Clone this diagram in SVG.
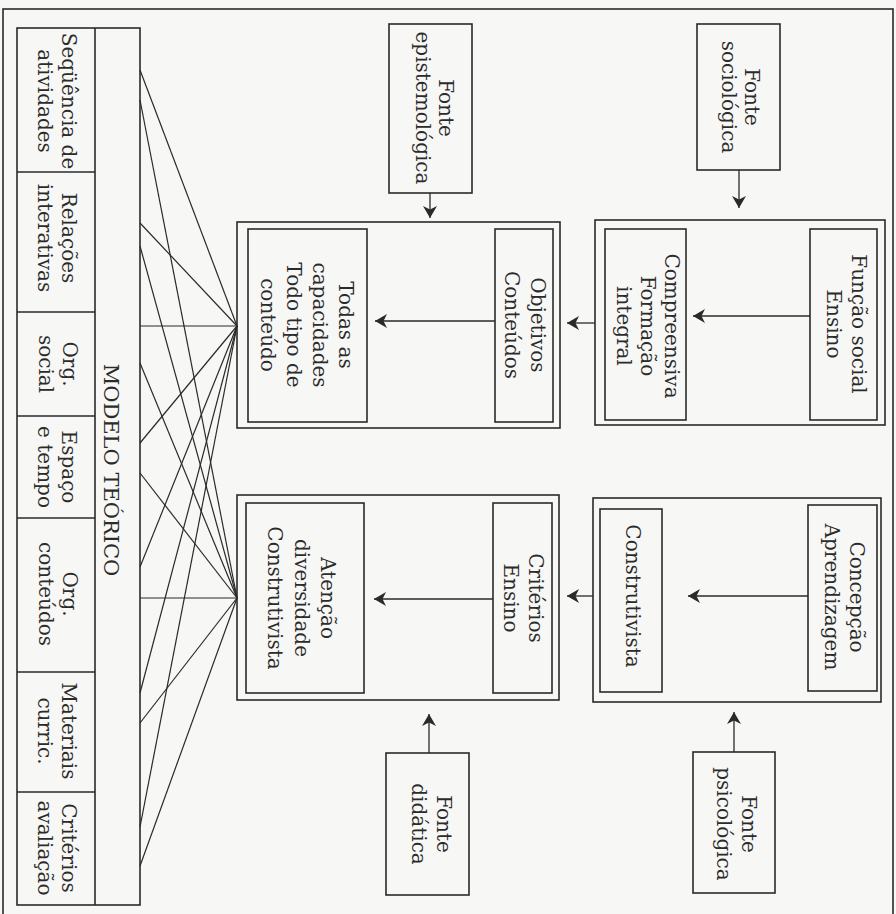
<svg xmlns="http://www.w3.org/2000/svg" width="896" height="914" viewBox="0 0 896 914">
<defs>
<marker id="ah" markerUnits="userSpaceOnUse" markerWidth="16" markerHeight="16" refX="12" refY="7" orient="auto">
<path d="M0,0 L12,7 L0,14 L3.5,7 z" fill="#2a2a2a"/>
</marker>
<style>
.box{fill:none;stroke:#2a2a2a;stroke-width:1.6}
.ln{stroke:#2a2a2a;stroke-width:1.2;fill:none}
.ar{stroke:#2a2a2a;stroke-width:1.3;fill:none;marker-end:url(#ah)}
text{font-family:"DejaVu Serif","Liberation Serif",serif;font-size:20px;fill:#2b2b2b;text-anchor:middle}
.big{font-size:21px}
</style>
</defs>
<rect x="0" y="0" width="896" height="914" fill="#f7f7f5"/>
<rect class="box" x="3" y="9" width="890" height="912"/>

<g id="modelo">
<rect class="box" x="17" y="28" width="123" height="877"/>
<line class="box" x1="95" y1="28" x2="95" y2="905"/>
<line class="box" x1="17" y1="172" x2="95" y2="172"/>
<line class="box" x1="17" y1="312" x2="95" y2="312"/>
<line class="box" x1="17" y1="416" x2="95" y2="416"/>
<line class="box" x1="17" y1="518" x2="95" y2="518"/>
<line class="box" x1="17" y1="672" x2="95" y2="672"/>
<line class="box" x1="17" y1="792" x2="95" y2="792"/>
<text class="big" transform="translate(104,470) rotate(90)">MODELO TEÓRICO</text>
<text transform="translate(62,101) rotate(90)"><tspan x="0" y="0">Seqüência de</tspan><tspan x="0" y="24">atividades</tspan></text>
<text transform="translate(62,238) rotate(90)"><tspan x="0" y="0">Relações</tspan><tspan x="0" y="24">interativas</tspan></text>
<text transform="translate(63,364) rotate(90)"><tspan x="0" y="0">Org.</tspan><tspan x="0" y="24">social</tspan></text>
<text transform="translate(62,467) rotate(90)"><tspan x="0" y="0">Espaço</tspan><tspan x="0" y="24">e tempo</tspan></text>
<text transform="translate(63,594) rotate(90)"><tspan x="0" y="0">Org.</tspan><tspan x="0" y="24">conteúdos</tspan></text>
<text transform="translate(62,731) rotate(90)"><tspan x="0" y="0">Materiais</tspan><tspan x="0" y="24">curric.</tspan></text>
<text transform="translate(62,848) rotate(90)"><tspan x="0" y="0">Critérios</tspan><tspan x="0" y="24">avaliação</tspan></text>
</g>

<g id="fonte-epistemologica">
<rect class="box" x="389" y="24" width="83" height="169"/>
<text transform="translate(439,108) rotate(90)"><tspan x="0" y="0">Fonte</tspan><tspan x="0" y="23">epistemológica</tspan></text>
</g>

<g id="fonte-sociologica">
<rect class="box" x="697" y="24" width="83" height="146"/>
<text transform="translate(745,97) rotate(90)"><tspan x="0" y="0">Fonte</tspan><tspan x="0" y="23">sociológica</tspan></text>
</g>

<g id="grupo-objetivos">
<rect class="box" x="237" y="222" width="323" height="206"/>
</g>
<g id="todas-capacidades">
<rect class="box" x="248" y="229" width="119" height="193"/>
<text transform="translate(339,325) rotate(90)"><tspan x="0" y="0">Todas as</tspan><tspan x="0" y="26">capacidades</tspan><tspan x="0" y="52">Todo tipo de</tspan><tspan x="0" y="78">conteúdo</tspan></text>
</g>
<g id="objetivos-conteudos">
<rect class="box" x="495" y="229" width="58" height="193"/>
<text transform="translate(531,325) rotate(90)"><tspan x="0" y="0">Objetivos</tspan><tspan x="0" y="26">Conteúdos</tspan></text>
</g>

<g id="grupo-funcao">
<rect class="box" x="595" y="220" width="290" height="205"/>
</g>
<g id="compreensiva">
<rect class="box" x="605" y="229" width="81" height="191"/>
<text transform="translate(665,326) rotate(90)"><tspan x="0" y="0">Compreensiva</tspan><tspan x="0" y="24">Formação</tspan><tspan x="0" y="48">integral</tspan></text>
</g>
<g id="funcao-social">
<rect class="box" x="810" y="229" width="67" height="191"/>
<text transform="translate(852,324) rotate(90)"><tspan x="0" y="0">Função social</tspan><tspan x="0" y="25">Ensino</tspan></text>
</g>

<g id="grupo-criterios">
<rect class="box" x="237" y="495" width="322" height="205"/>
</g>
<g id="atencao-diversidade">
<rect class="box" x="246" y="503" width="118" height="190"/>
<text transform="translate(321,598) rotate(90)"><tspan x="0" y="0">Atenção</tspan><tspan x="0" y="26.5">diversidade</tspan><tspan x="0" y="53">Construtivista</tspan></text>
</g>
<g id="criterios-ensino">
<rect class="box" x="493" y="503" width="59" height="190"/>
<text transform="translate(529,598) rotate(90)"><tspan x="0" y="0">Critérios</tspan><tspan x="0" y="25">Ensino</tspan></text>
</g>

<g id="grupo-concepcao">
<rect class="box" x="593" y="498" width="288" height="204"/>
</g>
<g id="construtivista">
<rect class="box" x="600" y="509" width="62" height="183"/>
<text transform="translate(626,596) rotate(90)">Construtivista</text>
</g>
<g id="concepcao-aprendizagem">
<rect class="box" x="808" y="505" width="69" height="186"/>
<text transform="translate(850,597) rotate(90)"><tspan x="0" y="0">Concepção</tspan><tspan x="0" y="25">Aprendizagem</tspan></text>
</g>

<g id="fonte-didatica">
<rect class="box" x="386" y="753" width="83" height="142"/>
<text transform="translate(437,824) rotate(90)"><tspan x="0" y="0">Fonte</tspan><tspan x="0" y="25">didática</tspan></text>
</g>

<g id="fonte-psicologica">
<rect class="box" x="693" y="752" width="82" height="141"/>
<text transform="translate(742,824) rotate(90)"><tspan x="0" y="0">Fonte</tspan><tspan x="0" y="25">psicológica</tspan></text>
</g>

<g id="connectors">
<line class="ar" x1="739" y1="170" x2="739" y2="208"/>
<line class="ar" x1="430" y1="193" x2="430" y2="218"/>
<line class="ar" x1="810" y1="316" x2="693" y2="316"/>
<line class="ar" x1="595" y1="323" x2="567" y2="323"/>
<line class="ar" x1="495" y1="321" x2="375" y2="321"/>
<line class="ar" x1="808" y1="596" x2="688" y2="596"/>
<line class="ar" x1="593" y1="596" x2="567" y2="596"/>
<line class="ar" x1="493" y1="599" x2="374" y2="599"/>
<line class="ar" x1="429" y1="753" x2="429" y2="714"/>
<line class="ar" x1="734" y1="752" x2="734" y2="712"/>
<line class="ln" x1="140" y1="70" x2="237" y2="326"/>
<line class="ln" x1="140" y1="100" x2="237" y2="598"/>
<line class="ln" x1="140" y1="223" x2="237" y2="326"/>
<line class="ln" x1="140" y1="246" x2="237" y2="598"/>
<line class="ln" x1="140" y1="326" x2="237" y2="326"/>
<line class="ln" x1="140" y1="363" x2="237" y2="598"/>
<line class="ln" x1="140" y1="443" x2="237" y2="326"/>
<line class="ln" x1="140" y1="473" x2="237" y2="598"/>
<line class="ln" x1="140" y1="567" x2="237" y2="326"/>
<line class="ln" x1="140" y1="598" x2="237" y2="598"/>
<line class="ln" x1="140" y1="693" x2="237" y2="326"/>
<line class="ln" x1="140" y1="723" x2="237" y2="598"/>
<line class="ln" x1="140" y1="827" x2="237" y2="326"/>
<line class="ln" x1="140" y1="866" x2="237" y2="598"/>
</g>
</svg>
